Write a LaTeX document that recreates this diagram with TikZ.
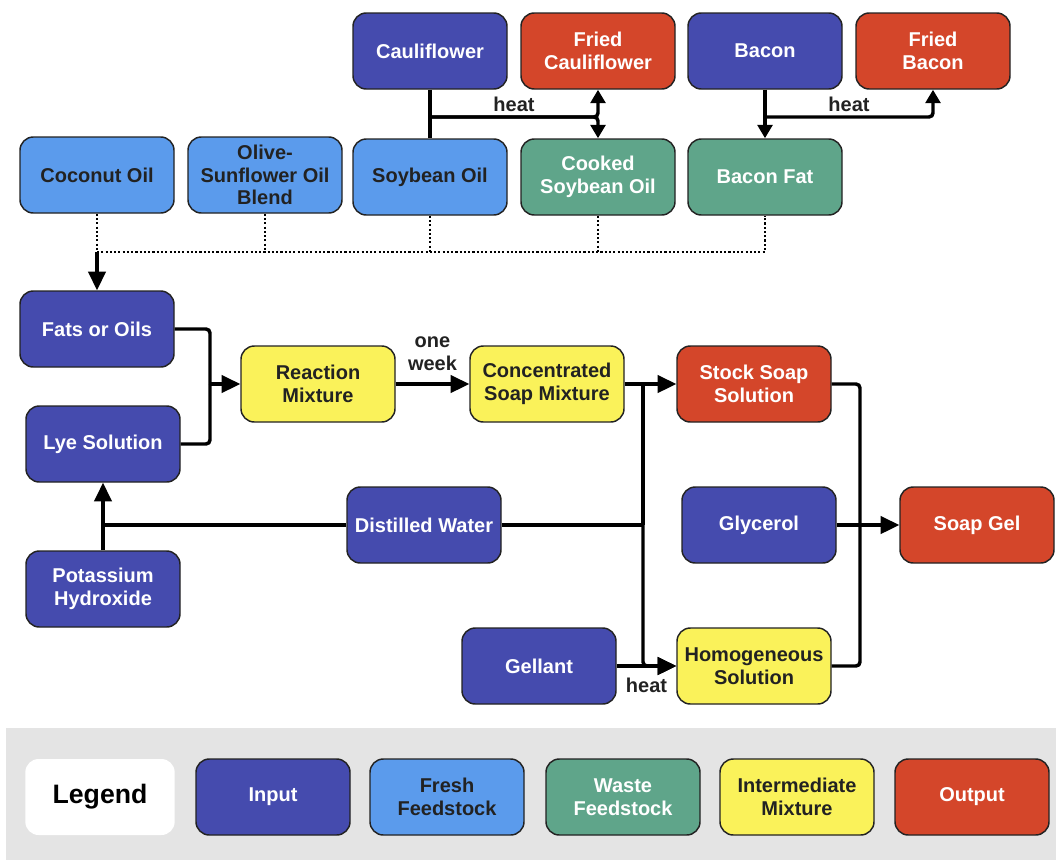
\documentclass[tikz,border=0pt]{standalone}
\usepackage{fontspec}
\setmainfont{Liberation Sans}
\usetikzlibrary{arrows.meta}

\definecolor{inputblue}{RGB}{69,75,174}
\definecolor{freshblue}{RGB}{91,155,236}
\definecolor{wastegreen}{RGB}{95,165,138}
\definecolor{mixyellow}{RGB}{250,242,90}
\definecolor{outred}{RGB}{212,70,42}
\definecolor{legendgray}{RGB}{228,228,228}
\definecolor{inkdark}{RGB}{34,34,34}

\tikzset{every picture/.style={line width=0.75pt}}
\tikzset{
  box/.style={draw=inkdark, line width=1.1pt, rounded corners=10pt, minimum width=115.5pt, minimum height=57pt, align=center, inner sep=2pt, font=\bfseries\fontsize{15}{17}\selectfont},
  inbox/.style={box, fill=inputblue, text=white},
  freshbox/.style={box, fill=freshblue, text=inkdark},
  wastebox/.style={box, fill=wastegreen, text=white},
  mixbox/.style={box, fill=mixyellow, text=inkdark},
  outbox/.style={box, fill=outred, text=white},
  flow/.style={draw=black, line width=2.6pt, rounded corners=3pt},
  arr/.style={flow, -{Triangle[length=14pt,width=13pt]}},
  arrsmall/.style={flow, -{Triangle[length=10pt,width=11pt]}},
  feed/.style={draw=black, line width=1.8pt, dash pattern=on 1.6pt off 1.6pt},
  lbl/.style={text=inkdark, align=center, inner sep=2pt, font=\bfseries\fontsize{15}{17}\selectfont},
}

\begin{document}
\begin{tikzpicture}[x=0.75pt,y=0.75pt,yscale=-1,xscale=1]
\useasboundingbox (0,0) rectangle (1056,860);

% legend band
\fill[legendgray] (6,728) rectangle (1056,860);

% frying
\node[inbox] (caul) at (430,51) {Cauliflower};
\node[outbox] (fcaul) at (598,51) {Fried\\Cauliflower};
\node[inbox] (bacon) at (765,51) {Bacon};
\node[outbox] (fbacon) at (933,51) {Fried\\Bacon};

% feedstocks
\node[freshbox] (coco) at (97,175) {Coconut Oil};
\node[freshbox] (olive) at (265,175) {Olive-\\Sunflower Oil\\Blend};
\node[freshbox] (soy) at (430,177) {Soybean Oil};
\node[wastebox] (csoy) at (598,177) {Cooked\\Soybean Oil};
\node[wastebox] (bfat) at (765,177) {Bacon Fat};

% saponification
\node[inbox] (fats) at (97,329) {Fats or Oils};
\node[mixbox] (react) at (318,384) {Reaction\\Mixture};
\node[mixbox] (conc) at (547,384) {Concentrated\\Soap Mixture};
\node[outbox] (stock) at (754,384) {Stock Soap\\Solution};
\node[inbox] (lye) at (103,444) {Lye Solution};
\node[inbox] (water) at (424,525) {Distilled Water};
\node[inbox] (glyc) at (759,525) {Glycerol};
\node[outbox] (gel) at (977,525) {Soap Gel};
\node[inbox] (koh) at (103,589) {Potassium\\Hydroxide};
\node[inbox] (gell) at (539,666) {Gellant};
\node[mixbox] (homog) at (754,666) {Homogeneous\\Solution};

% junctions
\coordinate (jc) at (430,117);
\coordinate (jb) at (765,117);
\coordinate (fd) at (97,252);
\coordinate (jr) at (210,384);
\coordinate (jw) at (643,525);
\coordinate (jg) at (860,525);

% frying connectors
\draw[flow] (caul.south) -- (soy.north);
\draw[arrsmall] (jc) -| node[lbl, pos=0.25, above=1pt] {heat} (fcaul.south);
\draw[arrsmall] (jc) -| (csoy.north);
\draw[arrsmall] (bacon.south) -- (bfat.north);
\draw[arrsmall] (jb) -| node[lbl, pos=0.25, above=1pt] {heat} (fbacon.south);

% feedstock collection
\draw[feed] (coco.south) -- (fd);
\draw[feed] (fd) -| (bfat.south);
\draw[feed] (olive.south) -- (olive.south |- fd);
\draw[feed] (soy.south) -- (soy.south |- fd);
\draw[feed] (csoy.south) -- (csoy.south |- fd);
\draw[arr] (fd) -- (fats.north);

% soap making
\draw[flow] (fats.east) -| (jr);
\draw[flow] (lye.east) -| (jr);
\draw[arr] (jr) -- (react.west);
\draw[arr] (react.east) -- node[lbl, above=7pt] {one\\week} (conc.west);
\draw[arr] (conc.east) -- (stock.west);
\draw[flow] (water.east) -- (jw);
\draw[flow] (jw) -- (jw |- conc.east);
\draw[arr] (jw) |- (homog.west);
\draw[flow] (water.west) -- (water.west -| lye.south);
\draw[arr] (koh.north) -- (lye.south);
\draw[arr] (gell.east) -- node[lbl, below=6pt] {heat} (homog.west);
\draw[flow] (stock.east) -| (jg);
\draw[flow] (homog.east) -| (jg);
\draw[arr] (glyc.east) -- (gel.west);

% legend
\node[box, fill=white, draw=none, minimum width=112pt, font=\bfseries\fontsize{20}{24}\selectfont, text=black] (leg) at (100,797) {Legend};
\node[inbox] (legin) at (273,797) {Input};
\node[freshbox] (legfresh) at (447,797) {Fresh\\Feedstock};
\node[wastebox] (legwaste) at (623,797) {Waste\\Feedstock};
\node[mixbox] (legmix) at (797,797) {Intermediate\\Mixture};
\node[outbox] (legout) at (972,797) {Output};

\end{tikzpicture}
\end{document}
